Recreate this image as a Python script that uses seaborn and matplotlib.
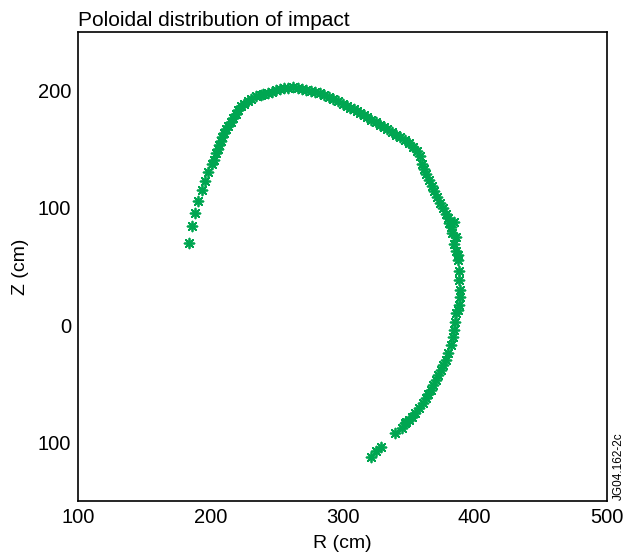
import numpy as np
import pandas as pd
import matplotlib
matplotlib.use("Agg")
import matplotlib.pyplot as plt
import seaborn as sns

# impact positions (R, Z in cm)
r_cm = [183.8, 185.9, 188.4, 190.9, 193.5, 196.0, 198.5, 201.1, 202.5, 204.2,
        205.5, 206.7, 208.0, 209.2, 210.5, 211.8, 213.5, 215.6, 217.5, 219.4,
        221.0, 223.2, 225.5, 228.2, 231.0, 234.6, 238.0, 240.0, 243.5, 247.0,
        250.0, 252.4, 256.0, 259.0, 262.5, 266.0, 269.0, 272.7, 276.0, 279.5,
        282.9, 286.0, 289.5, 293.0, 296.5, 300.0, 303.2, 306.0, 308.5, 310.8,
        313.5, 316.0, 318.4, 321.5, 325.0, 328.0, 331.1, 334.0, 337.5, 340.5,
        343.8, 347.0, 350.0, 353.5, 356.5, 358.5, 360.3, 362.0, 363.5, 365.4,
        367.5, 369.5, 371.8, 374.0, 376.0, 378.1, 379.5, 380.8, 381.9, 383.0,
        384.4, 385.5, 387.0, 387.8, 388.2, 388.8, 389.0, 388.2, 387.0, 385.7,
        385.0, 384.4, 383.2, 381.9, 380.0, 378.1, 376.0, 374.3, 372.5, 370.5,
        368.5, 366.7, 364.8, 362.9, 360.5, 357.8, 355.0, 352.7, 350.0, 348.0,
        346.9, 345.0, 340.0, 329.1, 325.5, 321.5,
        384.0, 387.5, 386.0]
z_cm = [69.8, 84.5, 95.6, 105.8, 115.5, 122.8, 130.5, 137.6, 141.0, 146.6,
        150.0, 153.2, 157.0, 160.3, 164.0, 167.4, 170.0, 173.0, 176.5, 180.2,
        183.5, 187.2, 189.0, 190.9, 193.0, 195.7, 196.0, 197.5, 197.7, 199.0,
        200.5, 201.4, 202.0, 202.5, 202.8, 202.5, 201.5, 200.6, 200.0, 199.0,
        197.7, 196.0, 194.5, 192.9, 191.0, 189.0, 187.2, 185.0, 184.0, 182.4,
        180.5, 179.0, 177.3, 175.0, 173.0, 171.0, 168.8, 167.0, 165.0, 162.5,
        160.3, 158.0, 155.5, 152.0, 148.9, 144.0, 137.6, 133.0, 128.5, 123.4,
        118.5, 114.0, 109.2, 104.5, 100.0, 95.1, 91.0, 87.5, 83.7, 78.5,
        69.5, 63.0, 55.3, 46.0, 38.3, 30.0, 24.1, 17.0, 13.0, 10.0,
        3.0, -4.3, -10.5, -17.0, -23.5, -29.8, -34.0, -38.3, -42.5, -46.8,
        -51.0, -55.3, -59.0, -62.4, -66.5, -70.9, -75.0, -78.0, -81.0, -82.5,
        -83.7, -88.0, -92.2, -103.6, -107.5, -112.1,
        88.0, 60.0, 75.0]

x_ticks = [100, 200, 300, 400, 500]
y_ticks = [200, 100, 0, -100]
y_tick_labels = ["200", "100", "0", "100"]

df = pd.DataFrame({"R": r_cm, "Z": z_cm})

sns.set_style("white")
plt.rcParams["font.family"] = ["Liberation Sans", "DejaVu Sans"]
plt.rcParams["text.color"] = "black"
plt.rcParams["axes.labelcolor"] = "black"

fig = plt.figure(figsize=(6.35, 5.58), dpi=100)
ax = fig.add_axes([78 / 635, 1 - 501 / 558, 529 / 635, 469 / 558])

sns.scatterplot(data=df, x="R", y="Z", ax=ax, marker=(8, 2, 0), s=50,
                color="#00a651", linewidth=1.3, legend=False)

ax.set_xlim(100, 500)
ax.set_ylim(-150, 250)
ax.set_xticks(x_ticks)
ax.set_yticks(y_ticks)
ax.set_yticklabels(y_tick_labels)
ax.tick_params(direction="in", length=8, width=1, labelsize=14.5, pad=5,
               colors="black")
ax.tick_params(axis="x", pad=5)
for sp in ax.spines.values():
    sp.set_color("black")
    sp.set_linewidth(1.2)

ax.set_xlabel("R (cm)", fontsize=14, labelpad=6, color="black")
ax.set_ylabel("Z (cm)", fontsize=14, labelpad=6, color="black")
ax.set_title("Poloidal distribution of impact", loc="left", fontsize=15,
             pad=4, color="black")

fig.text(619 / 635, 1 - 466 / 558, "JG04.162-2c", rotation=90, fontsize=8.5,
         ha="center", va="center", color="black")

fig.savefig("out.png", dpi=100)
